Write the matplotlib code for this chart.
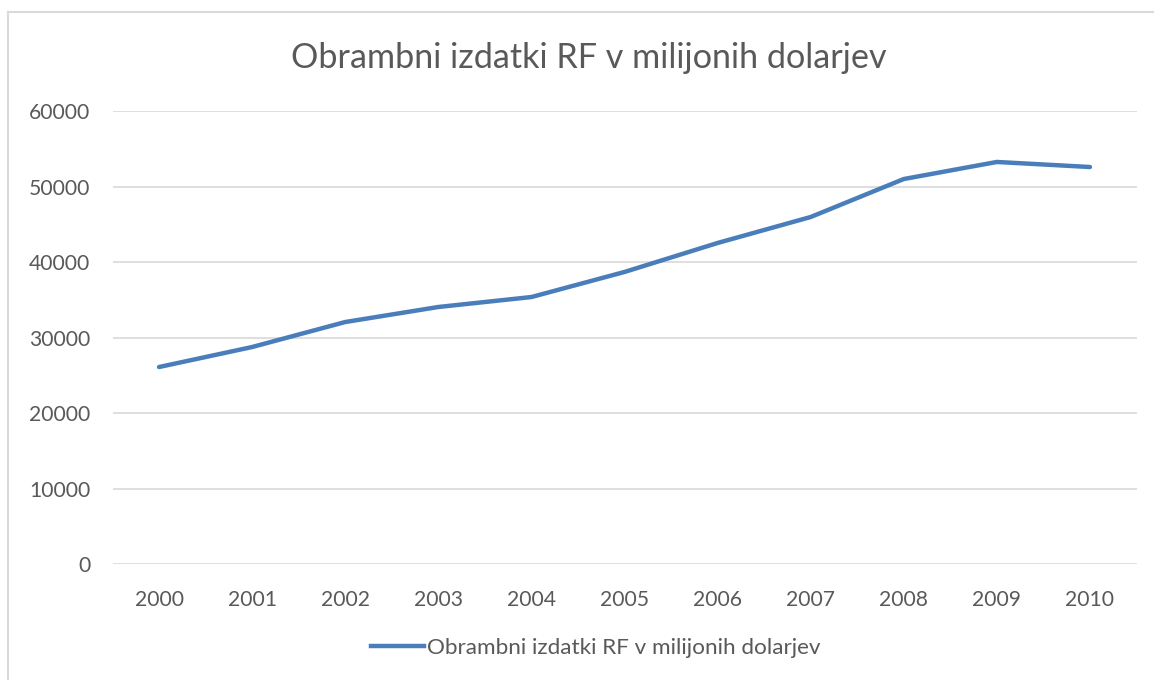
import matplotlib
matplotlib.use("Agg")
import matplotlib.pyplot as plt
from matplotlib.lines import Line2D

years = ["2000", "2001", "2002", "2003", "2004", "2005", "2006", "2007", "2008", "2009", "2010"]
spending = [26090, 28740, 32050, 34040, 35360, 38680, 42520, 45960, 50990, 53250, 52580]
yticks = [0, 10000, 20000, 30000, 40000, 50000, 60000]
title = "Obrambni izdatki RF v milijonih dolarjev"

plt.rcParams['font.family'] = ['Lato', 'DejaVu Sans']
text_color = '#595959'
grid_color = '#d9d9d9'
line_color = '#4a7ebb'

fig = plt.figure(figsize=(11.54, 6.8), dpi=100)
ax = fig.add_axes([112.5/1154, 1-564/680, (1136.5-112.5)/1154, (564-111)/680])

x = list(range(len(years)))
ax.plot(x, spending, color=line_color, linewidth=3.2, solid_capstyle='round',
        solid_joinstyle='round', label=title)

ax.set_xlim(-0.5, len(years) - 0.5)
ax.set_ylim(0, 60000)
ax.set_yticks(yticks)
ax.set_yticklabels([str(v) for v in yticks])
ax.set_xticks(x)
ax.set_xticklabels(years)
ax.grid(axis='y', color=grid_color, linewidth=1.2)
ax.set_axisbelow(True)
for s in ax.spines.values():
    s.set_visible(False)
ax.tick_params(axis='both', length=0, labelsize=15.2, colors=text_color)
ax.tick_params(axis='y', pad=16)
ax.tick_params(axis='x', pad=19)

fig.text(589/1154, 1-58/680, title, ha='center', va='center', fontsize=24.6, color=text_color)

leg = fig.legend(handles=[Line2D([0], [0], color=line_color, linewidth=3.2)], labels=[title],
                 loc='center', bbox_to_anchor=(596/1154, 1-648/680), frameon=False,
                 fontsize=16.2, handlelength=2.35, handletextpad=0.15)
for t in leg.get_texts():
    t.set_color(text_color)

# chart border (top and left visible)
fig.add_artist(Line2D([8/1154, 8/1154], [0, 1-12/680], color=grid_color, linewidth=1.5, transform=fig.transFigure))
fig.add_artist(Line2D([8/1154, 1], [1-12/680, 1-12/680], color=grid_color, linewidth=1.5, transform=fig.transFigure))

fig.savefig("out.png", dpi=100)
